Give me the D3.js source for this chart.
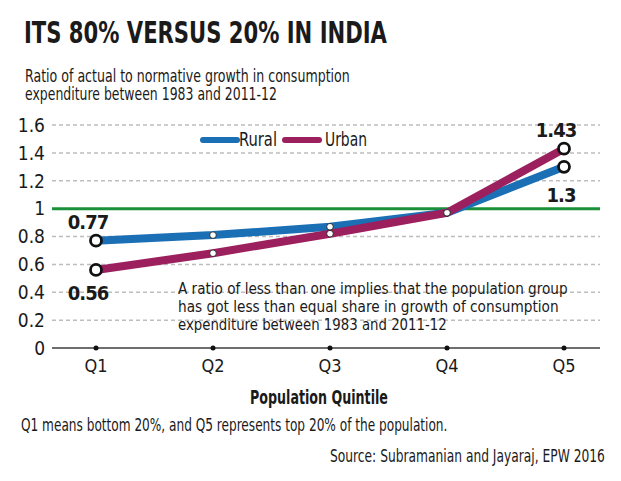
<!DOCTYPE html>
<html>
<head>
<meta charset="utf-8">
<script src="https://cdn.jsdelivr.net/npm/d3@7"></script>
<style>
  body { margin: 0; background: #fff; }
  text { font-family: "Liberation Sans Narrow", "DejaVu Sans Condensed", Roboto, sans-serif; fill: #1a1a1a; }
</style>
</head>
<body>
<div id="chart"></div>
<script>
const quintiles = ["Q1", "Q2", "Q3", "Q4", "Q5"];
const rural = [0.77, 0.81, 0.87, 0.97, 1.3];
const urban = [0.56, 0.68, 0.82, 0.97, 1.43];
const yTicks = [0, 0.2, 0.4, 0.6, 0.8, 1, 1.2, 1.4, 1.6];
const yTickLabels = ["0", "0.2", "0.4", "0.6", "0.8", "1", "1.2", "1.4", "1.6"];
const seriesNames = ["Rural", "Urban"];
const seriesColors = ["#1b6fb5", "#9c1f5e"];
const title = "ITS 80% VERSUS 20% IN INDIA";
const subtitle = ["Ratio of actual to normative growth in consumption", "expenditure between 1983 and 2011-12"];
const note = ["A ratio of less than one implies that the population group", "has got less than equal share in growth of consumption", "expenditure between 1983 and 2011-12"];
const xTitle = "Population Quintile";
const footnote = "Q1 means bottom 20%, and Q5 represents top 20% of the population.";
const source = "Source: Subramanian and Jayaraj, EPW 2016";

const W = 621, H = 481;
const plot = {left: 52, right: 600, top: 125, bottom: 348};

const svg = d3.select("#chart").append("svg")
    .attr("width", W).attr("height", H);

// text squeezed horizontally to a given width
function fitText(s, x0, y0, width, size, weight) {
    const t = svg.append("text").attr("x", 0).attr("y", 0)
        .style("font-size", size).style("font-weight", weight || "normal").text(s);
    const w = t.node().getComputedTextLength();
    t.attr("transform", `translate(${x0},${y0}) scale(${width / w},1)`);
    return t;
}

// header
fitText(title, 24, 43, 363, "31px", "bold");
subtitle.forEach((s, i) => fitText(s, 25, 82 + i * 18, [325, 252][i], "17px"));

const x = d3.scalePoint().domain(quintiles).range([96, 564]);
const y = d3.scaleLinear().domain([0, 1.6]).range([plot.bottom, plot.top]);

// grid
svg.append("g").selectAll("line")
    .data(yTicks.filter(d => d !== 0 && d !== 1))
    .enter().append("line")
    .attr("x1", plot.left).attr("x2", plot.right)
    .attr("y1", d => y(d)).attr("y2", d => y(d))
    .style("stroke", "#bdbdbd").style("stroke-width", 1.5)
    .style("stroke-dasharray", "4,3");

// y labels
svg.append("g").selectAll("text")
    .data(yTicks).enter().append("text")
    .attr("x", 45).attr("y", d => y(d)).attr("dy", "0.36em")
    .attr("text-anchor", "end").style("font-size", "19px")
    .text((d, i) => yTickLabels[i]);

// x axis
svg.append("line").attr("x1", plot.left).attr("x2", plot.right)
    .attr("y1", y(0)).attr("y2", y(0))
    .style("stroke", "#6e6e6e").style("stroke-width", 2);
svg.append("g").selectAll("circle").data(quintiles).enter().append("circle")
    .attr("cx", d => x(d)).attr("cy", y(0)).attr("r", 2.5).style("fill", "#111");
svg.append("g").selectAll("text").data(quintiles).enter().append("text")
    .attr("x", d => x(d)).attr("y", 372).attr("text-anchor", "middle")
    .style("font-size", "18px").text(d => d);
fitText(xTitle, 250, 404, 138, "19px", "bold");

// reference line at 1
svg.append("line").attr("x1", plot.left).attr("x2", plot.right)
    .attr("y1", y(1)).attr("y2", y(1))
    .style("stroke", "#1a9038").style("stroke-width", 3);

// series lines
const line = d3.line().x((d, i) => x(quintiles[i])).y(d => y(d));
[rural, urban].forEach((vals, k) => {
    svg.append("path").datum(vals).attr("d", line)
        .style("fill", "none").style("stroke", seriesColors[k])
        .style("stroke-width", 8).style("stroke-linejoin", "round");
});

// markers
[rural, urban].forEach((vals, k) => {
    svg.append("g").selectAll("circle").data(vals).enter().append("circle")
        .attr("cx", (d, i) => x(quintiles[i])).attr("cy", d => y(d))
        .attr("r", (d, i) => (i === 0 || i === 4) ? 5.5 : 3.3)
        .style("fill", "#fff").style("stroke", "#111")
        .style("stroke-width", (d, i) => (i === 0 || i === 4) ? 2.8 : 0.8);
});

// end value labels
const valueLabels = [
    {v: rural[0], q: 0, dx: -8, dy: -12},
    {v: urban[0], q: 0, dx: -8, dy: 30},
    {v: urban[4], q: 4, dx: -8, dy: -12},
    {v: rural[4], q: 4, dx: -3, dy: 35}
];
svg.append("g").selectAll("text").data(valueLabels).enter().append("text")
    .attr("x", d => x(quintiles[d.q]) + d.dx).attr("y", d => y(d.v) + d.dy)
    .attr("text-anchor", "middle").style("font-size", "20px")
    .style("font-weight", "bold").style("letter-spacing", "-1px")
    .text(d => String(d.v));

// legend
seriesNames.forEach((n, k) => {
    const lx = [203, 285][k];
    svg.append("line").attr("x1", lx).attr("x2", lx + 34)
        .attr("y1", 140).attr("y2", 140)
        .style("stroke", seriesColors[k]).style("stroke-width", 6)
        .style("stroke-linecap", "round");
    fitText(n, [239, 325][k], 146, [38, 42][k], "19px");
});

// annotation
note.forEach((s, i) => fitText(s, 178, 294 + i * 18, [390, 381, 269][i], "16px"));

// footer
fitText(footnote, 21, 431, 427, "17px");
fitText(source, 330, 462, 275, "17px");
</script>
</body>
</html>
